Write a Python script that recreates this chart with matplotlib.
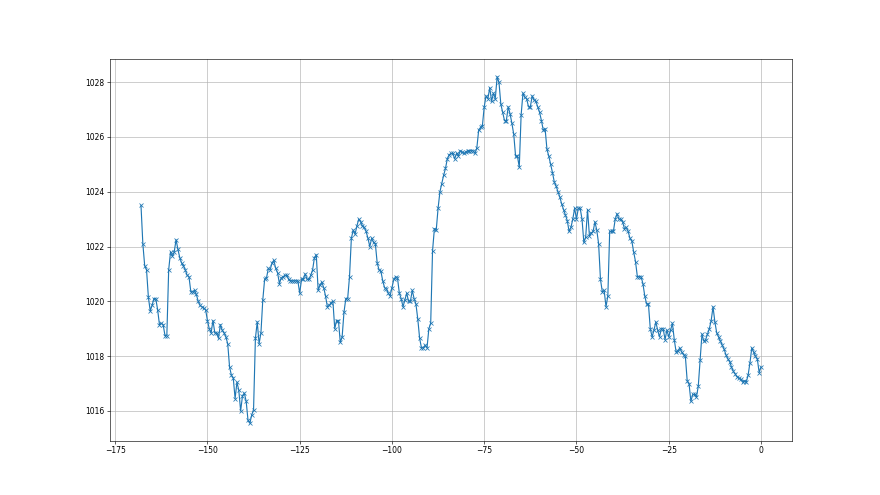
import numpy as np
import matplotlib
matplotlib.use("Agg")
import matplotlib.pyplot as plt

# hours before now, half-hourly readings
HOURS = np.arange(-168.0, 0.25, 0.5)

PRESSURE = [
    1023.5, 1022.1, 1021.3, 1021.15, 1020.15, 1019.65, 1019.85, 1020.1, 1020.1, 1019.7,
    1019.15, 1019.2, 1019.15, 1018.75, 1018.75, 1021.15, 1021.8, 1021.65, 1021.8, 1022.25,
    1021.9, 1021.6, 1021.4, 1021.3, 1021.15, 1020.95, 1020.9, 1020.35, 1020.35, 1020.4,
    1020.25, 1020.0, 1019.85, 1019.8, 1019.75, 1019.7, 1019.3, 1019.0, 1018.85, 1019.3,
    1018.85, 1018.85, 1018.65, 1019.15, 1018.95, 1018.85, 1018.7, 1018.45, 1017.6, 1017.3,
    1017.2, 1016.45, 1017.05, 1016.75, 1016.0, 1016.55, 1016.65, 1016.35, 1015.65, 1015.55,
    1015.85, 1016.05, 1018.65, 1019.25, 1018.45, 1018.85, 1020.05, 1020.8, 1020.85, 1021.2,
    1021.15, 1021.4, 1021.5, 1021.2, 1021.05, 1020.65, 1020.85, 1020.9, 1020.95, 1020.95,
    1020.8, 1020.75, 1020.75, 1020.75, 1020.75, 1020.75, 1020.3, 1020.8, 1020.83, 1021.0,
    1020.8, 1020.8, 1020.95, 1021.15, 1021.6, 1021.7, 1020.4, 1020.6, 1020.7, 1020.5,
    1020.2, 1019.8, 1019.85, 1019.95, 1020.0, 1019.0, 1019.3, 1019.3, 1018.5, 1018.7,
    1019.6, 1020.1, 1020.1, 1020.9, 1022.3, 1022.6, 1022.45, 1022.75, 1023.0, 1022.9,
    1022.75, 1022.7, 1022.55, 1022.3, 1022.0, 1022.3, 1022.15, 1022.1, 1021.4, 1021.15,
    1021.1, 1020.75, 1020.5, 1020.45, 1020.3, 1020.2, 1020.5, 1020.8, 1020.9, 1020.85,
    1020.3, 1020.1, 1019.8, 1020.05, 1020.3, 1020.0, 1020.0, 1020.4, 1020.1, 1019.9,
    1019.35, 1018.65, 1018.3, 1018.3, 1018.4, 1018.3, 1019.0, 1019.2, 1021.85, 1022.65,
    1022.6, 1023.4, 1024.0, 1024.3, 1024.6, 1024.85, 1025.2, 1025.35, 1025.4, 1025.4,
    1025.2, 1025.4, 1025.3, 1025.5, 1025.45, 1025.4, 1025.45, 1025.5, 1025.5, 1025.5,
    1025.5, 1025.4, 1025.6, 1026.25, 1026.35, 1026.4, 1027.1, 1027.5, 1027.4, 1027.8,
    1027.3, 1027.6, 1027.4, 1028.2, 1028.0, 1027.2, 1026.9, 1026.6, 1026.6, 1027.1,
    1026.85, 1026.5, 1026.1, 1025.3, 1025.3, 1024.9, 1026.8, 1027.6, 1027.45, 1027.4,
    1027.1, 1027.1, 1027.5, 1027.35, 1027.3, 1027.1, 1026.9, 1026.6, 1026.25, 1026.3,
    1025.55, 1025.3, 1025.0, 1024.7, 1024.35, 1024.2, 1024.0, 1023.8, 1023.55, 1023.35,
    1023.15, 1022.95, 1022.55, 1022.7, 1023.0, 1023.4, 1023.0, 1023.4, 1023.4, 1023.0,
    1022.15, 1022.35, 1023.35, 1022.4, 1022.5, 1022.55, 1022.9, 1022.6, 1022.1, 1020.8,
    1020.35, 1020.4, 1019.8, 1020.2, 1022.55, 1022.55, 1022.55, 1023.0, 1023.2, 1023.0,
    1023.0, 1022.9, 1022.65, 1022.7, 1022.55, 1022.3, 1022.2, 1021.8, 1021.45, 1020.9,
    1020.9, 1020.9, 1020.65, 1020.2, 1019.9, 1019.9, 1019.0, 1018.7, 1018.95, 1019.25,
    1018.95, 1018.7, 1019.0, 1019.0, 1018.6, 1018.95, 1018.7, 1018.95, 1019.2, 1018.6,
    1018.15, 1018.2, 1018.3, 1018.15, 1018.05, 1018.0, 1017.1, 1017.0, 1016.35, 1016.6,
    1016.6, 1016.5, 1016.9, 1017.85, 1018.8, 1018.55, 1018.6, 1018.8, 1019.0, 1019.3,
    1019.8, 1019.25, 1018.85, 1018.7, 1018.55, 1018.4, 1018.25, 1018.05, 1017.9, 1017.8,
    1017.6, 1017.45, 1017.35, 1017.25, 1017.2, 1017.15, 1017.05, 1017.1, 1017.05, 1017.3,
    1017.75, 1018.3, 1018.15, 1018.0, 1017.9, 1017.4, 1017.6,
]


def main():
    fig, ax = plt.subplots(figsize=(16, 9), dpi=55)
    ax.plot(HOURS, PRESSURE, marker="x", color="#1f77b4", linewidth=1.5)
    ax.grid(True)
    fig.savefig("out.png", dpi=55)
    plt.close(fig)


if __name__ == "__main__":
    main()
